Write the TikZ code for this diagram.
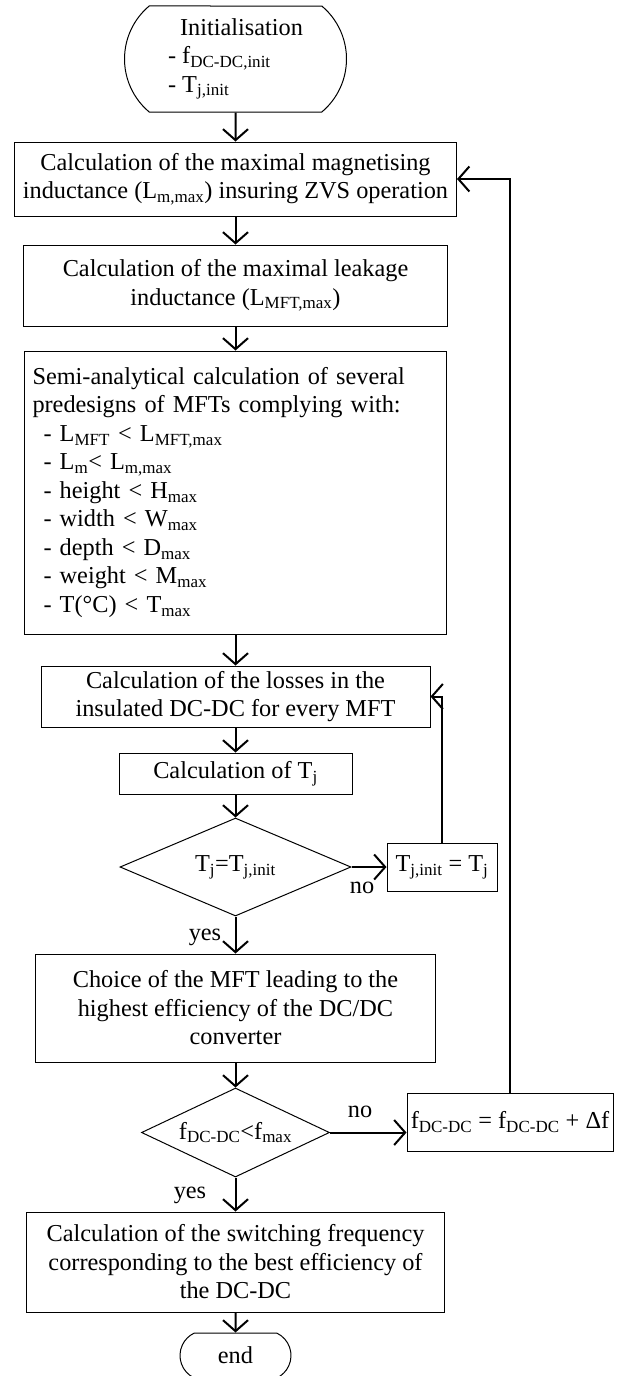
\documentclass[tikz,border=0pt]{standalone}
\usepackage{fontspec}
\setmainfont{Liberation Serif}
\usetikzlibrary{shapes.geometric, shapes.misc, arrows.meta}
\tikzset{
  body/.style={font=\fontsize{24.3}{28.5}\selectfont},
  block/.style={rectangle, draw, line width=1pt, align=center,
    inner sep=0pt, body},
  listblock/.style={rectangle, draw, line width=1pt, align=left,
    inner xsep=8pt, inner ysep=0pt, body},
  decision/.style={diamond, draw, line width=1pt, aspect=2,
    inner sep=0pt, body},
  terminal/.style={rounded rectangle, draw, line width=1pt,
    inner sep=0pt, body},
  arrow/.style={-{Straight Barb[length=11pt,width=25pt]}, line width=2pt},
  lbl/.style={inner sep=0pt, body}
}

\begin{document}
\begin{tikzpicture}[x=1pt, y=-1pt]
  \useasboundingbox (0,0) rectangle (618,1376);
  % main column
  \node[terminal, minimum width=222pt, minimum height=106pt,
    rounded rectangle arc length=100, align=left] (start) at (235.5,59)
    {\hspace*{12pt}Initialisation\\- f\textsubscript{DC-DC,init}\\- T\textsubscript{j,init}};
  \node[block, minimum width=442pt, minimum height=74pt] (magn) at (235.5,179)
    {Calculation of the maximal magnetising\\inductance (L\textsubscript{m,max}) insuring ZVS operation};
  \node[block, minimum width=424pt, minimum height=81pt] (leak) at (235.5,285.5)
    {Calculation of the maximal leakage\\inductance (L\textsubscript{MFT,max})};
  \node[listblock, text width=406pt, minimum height=283pt] (semi) at (235.5,492.5)
    {Semi-analytical calculation of several\\
     predesigns of MFTs complying with:\\
     \hspace*{11pt}- L\textsubscript{MFT} < L\textsubscript{MFT,max}\\
     \hspace*{11pt}- L\textsubscript{m}< L\textsubscript{m,max}\\
     \hspace*{11pt}- height < H\textsubscript{max}\\
     \hspace*{11pt}- width < W\textsubscript{max}\\
     \hspace*{11pt}- depth < D\textsubscript{max}\\
     \hspace*{11pt}- weight < M\textsubscript{max}\\
     \hspace*{11pt}- T(°C) < T\textsubscript{max}};
  \node[block, minimum width=389pt, minimum height=61pt] (loss) at (235.5,696.5)
    {Calculation of the losses in the\\insulated DC-DC for every MFT};
  \node[block, minimum width=233pt, minimum height=41pt] (tj) at (235.5,773.5)
    {Calculation of T\textsubscript{j}};
  \node[decision, minimum width=231pt, minimum height=98pt] (dec1) at (235.5,867)
    {T\textsubscript{j}=T\textsubscript{j,init}};
  \node[block, minimum width=110pt, minimum height=48pt] (upd) at (442,867)
    {T\textsubscript{j,init} = T\textsubscript{j}};
  \node[block, minimum width=400pt, minimum height=108pt] (choice) at (235.5,1008)
    {Choice of the MFT leading to the\\highest efficiency of the DC/DC\\converter};
  \node[decision, minimum width=188pt, minimum height=89pt] (dec2) at (235.5,1132.5)
    {f\textsubscript{DC-DC}<f\textsubscript{max}};
  \node[block, minimum width=206pt, minimum height=58pt] (incf) at (510,1122)
    {f\textsubscript{DC-DC} = f\textsubscript{DC-DC} + Δf};
  \node[block, minimum width=418pt, minimum height=100pt] (final) at (235.5,1262)
    {Calculation of the switching frequency\\corresponding to the best efficiency of\\the DC-DC};
  \node[terminal, minimum width=111pt, minimum height=45pt,
    rounded rectangle arc length=130] (stop) at (235.5,1355.5) {end};
  % labels
  \node[lbl] (no1) at (362,888) {no};
  \node[lbl] (yes1) at (205,937) {yes};
  \node[lbl] (no2) at (360,1112) {no};
  \node[lbl] (yes2) at (190,1195) {yes};
  % connectors
  \draw[arrow] (start) -- (magn);
  \draw[arrow] (magn) -- (leak);
  \draw[arrow] (leak) -- (semi);
  \draw[arrow] (semi) -- (loss);
  \draw[arrow] (loss) -- (tj);
  \draw[arrow] (tj) -- (dec1);
  \draw[arrow] (dec1) -- (upd);
  \draw[arrow] (upd.north) |- (loss.east);
  \draw[arrow] (dec1) -- (choice);
  \draw[arrow] (choice) -- (dec2);
  \draw[arrow] (dec2.east) -- (dec2.east -| incf.west);
  \draw[arrow] (incf.north) |- (magn.east);
  \draw[arrow] (dec2) -- (final);
  \draw[arrow] (final) -- (stop);
\end{tikzpicture}
\end{document}
